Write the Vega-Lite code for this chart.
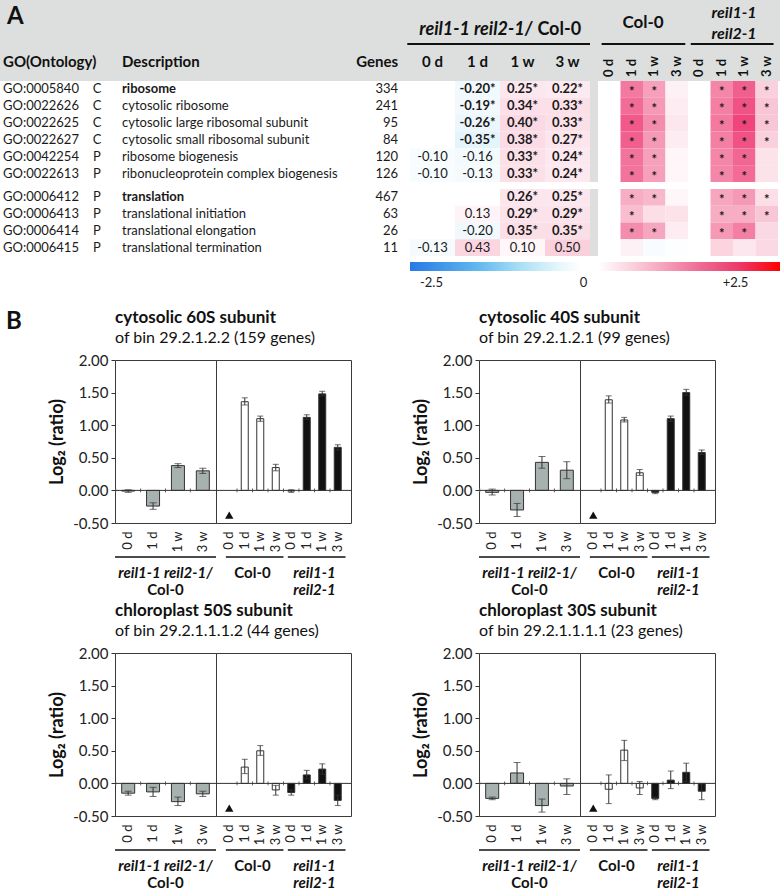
{
"$schema": "https://vega.github.io/schema/vega-lite/v6.json",
"padding": 0,
"background": "white",
"config": {"view": {"stroke": null}, "font": "Lato", "text": {"font": "Lato", "fontSize": 13, "color": "#1a1a1a"}, "axis": {"labelFont": "Lato", "titleFont": "Lato", "grid": false}, "title": {"font": "Lato", "subtitleFont": "Lato"}},
"datasets": {
"terms": [
{"go":"GO:0005840","ont":"C","desc":"ribosome","genes":334,"bold":true,"blk":1},
{"go":"GO:0022626","ont":"C","desc":"cytosolic ribosome","genes":241,"bold":false,"blk":1},
{"go":"GO:0022625","ont":"C","desc":"cytosolic large ribosomal subunit","genes":95,"bold":false,"blk":1},
{"go":"GO:0022627","ont":"C","desc":"cytosolic small ribosomal subunit","genes":84,"bold":false,"blk":1},
{"go":"GO:0042254","ont":"P","desc":"ribosome biogenesis","genes":120,"bold":false,"blk":1},
{"go":"GO:0022613","ont":"P","desc":"ribonucleoprotein complex biogenesis","genes":126,"bold":false,"blk":1},
{"go":"GO:0006412","ont":"P","desc":"translation","genes":467,"bold":true,"blk":2},
{"go":"GO:0006413","ont":"P","desc":"translational initiation","genes":63,"bold":false,"blk":2},
{"go":"GO:0006414","ont":"P","desc":"translational elongation","genes":26,"bold":false,"blk":2},
{"go":"GO:0006415","ont":"P","desc":"translational termination","genes":11,"bold":false,"blk":2}
],
"cols": [{"t":"0 d"},{"t":"1 d"},{"t":"1 w"},{"t":"3 w"}],
"ratio": [
{"go":"GO:0005840","blk":1,"t":"1 d","v":-0.20,"lab":"-0.20*","sig":true},
{"go":"GO:0005840","blk":1,"t":"1 w","v":0.25,"lab":"0.25*","sig":true},
{"go":"GO:0005840","blk":1,"t":"3 w","v":0.22,"lab":"0.22*","sig":true},
{"go":"GO:0022626","blk":1,"t":"1 d","v":-0.19,"lab":"-0.19*","sig":true},
{"go":"GO:0022626","blk":1,"t":"1 w","v":0.34,"lab":"0.34*","sig":true},
{"go":"GO:0022626","blk":1,"t":"3 w","v":0.33,"lab":"0.33*","sig":true},
{"go":"GO:0022625","blk":1,"t":"1 d","v":-0.26,"lab":"-0.26*","sig":true},
{"go":"GO:0022625","blk":1,"t":"1 w","v":0.40,"lab":"0.40*","sig":true},
{"go":"GO:0022625","blk":1,"t":"3 w","v":0.33,"lab":"0.33*","sig":true},
{"go":"GO:0022627","blk":1,"t":"1 d","v":-0.35,"lab":"-0.35*","sig":true},
{"go":"GO:0022627","blk":1,"t":"1 w","v":0.38,"lab":"0.38*","sig":true},
{"go":"GO:0022627","blk":1,"t":"3 w","v":0.27,"lab":"0.27*","sig":true},
{"go":"GO:0042254","blk":1,"t":"0 d","v":-0.10,"lab":"-0.10","sig":false},
{"go":"GO:0042254","blk":1,"t":"1 d","v":-0.16,"lab":"-0.16","sig":false},
{"go":"GO:0042254","blk":1,"t":"1 w","v":0.33,"lab":"0.33*","sig":true},
{"go":"GO:0042254","blk":1,"t":"3 w","v":0.24,"lab":"0.24*","sig":true},
{"go":"GO:0022613","blk":1,"t":"0 d","v":-0.10,"lab":"-0.10","sig":false},
{"go":"GO:0022613","blk":1,"t":"1 d","v":-0.13,"lab":"-0.13","sig":false},
{"go":"GO:0022613","blk":1,"t":"1 w","v":0.33,"lab":"0.33*","sig":true},
{"go":"GO:0022613","blk":1,"t":"3 w","v":0.24,"lab":"0.24*","sig":true},
{"go":"GO:0006412","blk":2,"t":"1 w","v":0.26,"lab":"0.26*","sig":true},
{"go":"GO:0006412","blk":2,"t":"3 w","v":0.25,"lab":"0.25*","sig":true},
{"go":"GO:0006413","blk":2,"t":"1 d","v":0.13,"lab":"0.13","sig":false},
{"go":"GO:0006413","blk":2,"t":"1 w","v":0.29,"lab":"0.29*","sig":true},
{"go":"GO:0006413","blk":2,"t":"3 w","v":0.29,"lab":"0.29*","sig":true},
{"go":"GO:0006414","blk":2,"t":"1 d","v":-0.20,"lab":"-0.20","sig":false},
{"go":"GO:0006414","blk":2,"t":"1 w","v":0.35,"lab":"0.35*","sig":true},
{"go":"GO:0006414","blk":2,"t":"3 w","v":0.35,"lab":"0.35*","sig":true},
{"go":"GO:0006415","blk":2,"t":"0 d","v":-0.13,"lab":"-0.13","sig":false},
{"go":"GO:0006415","blk":2,"t":"1 d","v":0.43,"lab":"0.43","sig":false},
{"go":"GO:0006415","blk":2,"t":"1 w","v":0.10,"lab":"0.10","sig":false},
{"go":"GO:0006415","blk":2,"t":"3 w","v":0.50,"lab":"0.50","sig":false}
],
"heat": [
{"go":"GO:0005840","blk":1,"g":"Col-0","t":"1 d","v":1.25,"sig":true},
{"go":"GO:0005840","blk":1,"g":"Col-0","t":"1 w","v":0.95,"sig":true},
{"go":"GO:0005840","blk":1,"g":"Col-0","t":"3 w","v":0.15,"sig":false},
{"go":"GO:0005840","blk":1,"g":"reil","t":"1 d","v":1.15,"sig":true},
{"go":"GO:0005840","blk":1,"g":"reil","t":"1 w","v":1.45,"sig":true},
{"go":"GO:0005840","blk":1,"g":"reil","t":"3 w","v":0.5,"sig":true},
{"go":"GO:0022626","blk":1,"g":"Col-0","t":"1 d","v":1.35,"sig":true},
{"go":"GO:0022626","blk":1,"g":"Col-0","t":"1 w","v":1.0,"sig":true},
{"go":"GO:0022626","blk":1,"g":"Col-0","t":"3 w","v":0.2,"sig":false},
{"go":"GO:0022626","blk":1,"g":"reil","t":"1 d","v":1.2,"sig":true},
{"go":"GO:0022626","blk":1,"g":"reil","t":"1 w","v":1.55,"sig":true},
{"go":"GO:0022626","blk":1,"g":"reil","t":"3 w","v":0.6,"sig":true},
{"go":"GO:0022625","blk":1,"g":"Col-0","t":"1 d","v":1.5,"sig":true},
{"go":"GO:0022625","blk":1,"g":"Col-0","t":"1 w","v":1.1,"sig":true},
{"go":"GO:0022625","blk":1,"g":"Col-0","t":"3 w","v":0.25,"sig":false},
{"go":"GO:0022625","blk":1,"g":"reil","t":"1 d","v":1.25,"sig":true},
{"go":"GO:0022625","blk":1,"g":"reil","t":"1 w","v":1.65,"sig":true},
{"go":"GO:0022625","blk":1,"g":"reil","t":"3 w","v":0.6,"sig":true},
{"go":"GO:0022627","blk":1,"g":"Col-0","t":"1 d","v":1.45,"sig":true},
{"go":"GO:0022627","blk":1,"g":"Col-0","t":"1 w","v":1.0,"sig":true},
{"go":"GO:0022627","blk":1,"g":"Col-0","t":"3 w","v":0.2,"sig":false},
{"go":"GO:0022627","blk":1,"g":"reil","t":"1 d","v":1.2,"sig":true},
{"go":"GO:0022627","blk":1,"g":"reil","t":"1 w","v":1.55,"sig":true},
{"go":"GO:0022627","blk":1,"g":"reil","t":"3 w","v":0.5,"sig":true},
{"go":"GO:0042254","blk":1,"g":"Col-0","t":"1 d","v":1.3,"sig":true},
{"go":"GO:0042254","blk":1,"g":"Col-0","t":"1 w","v":0.95,"sig":true},
{"go":"GO:0042254","blk":1,"g":"Col-0","t":"3 w","v":0.1,"sig":false},
{"go":"GO:0042254","blk":1,"g":"reil","t":"1 d","v":1.15,"sig":true},
{"go":"GO:0042254","blk":1,"g":"reil","t":"1 w","v":1.4,"sig":true},
{"go":"GO:0042254","blk":1,"g":"reil","t":"3 w","v":0.3,"sig":false},
{"go":"GO:0022613","blk":1,"g":"Col-0","t":"1 d","v":1.3,"sig":true},
{"go":"GO:0022613","blk":1,"g":"Col-0","t":"1 w","v":0.95,"sig":true},
{"go":"GO:0022613","blk":1,"g":"Col-0","t":"3 w","v":0.1,"sig":false},
{"go":"GO:0022613","blk":1,"g":"reil","t":"1 d","v":1.15,"sig":true},
{"go":"GO:0022613","blk":1,"g":"reil","t":"1 w","v":1.35,"sig":true},
{"go":"GO:0022613","blk":1,"g":"reil","t":"3 w","v":0.3,"sig":false},
{"go":"GO:0006412","blk":2,"g":"Col-0","t":"1 d","v":0.85,"sig":true},
{"go":"GO:0006412","blk":2,"g":"Col-0","t":"1 w","v":0.75,"sig":true},
{"go":"GO:0006412","blk":2,"g":"Col-0","t":"3 w","v":0.1,"sig":false},
{"go":"GO:0006412","blk":2,"g":"reil","t":"1 d","v":0.9,"sig":true},
{"go":"GO:0006412","blk":2,"g":"reil","t":"1 w","v":1.0,"sig":true},
{"go":"GO:0006412","blk":2,"g":"reil","t":"3 w","v":0.35,"sig":true},
{"go":"GO:0006413","blk":2,"g":"Col-0","t":"1 d","v":0.7,"sig":true},
{"go":"GO:0006413","blk":2,"g":"Col-0","t":"1 w","v":0.35,"sig":false},
{"go":"GO:0006413","blk":2,"g":"Col-0","t":"3 w","v":0.3,"sig":false},
{"go":"GO:0006413","blk":2,"g":"reil","t":"1 d","v":0.85,"sig":true},
{"go":"GO:0006413","blk":2,"g":"reil","t":"1 w","v":0.85,"sig":true},
{"go":"GO:0006413","blk":2,"g":"reil","t":"3 w","v":0.6,"sig":true},
{"go":"GO:0006414","blk":2,"g":"Col-0","t":"1 d","v":1.1,"sig":true},
{"go":"GO:0006414","blk":2,"g":"Col-0","t":"1 w","v":0.9,"sig":true},
{"go":"GO:0006414","blk":2,"g":"Col-0","t":"3 w","v":0.2,"sig":false},
{"go":"GO:0006414","blk":2,"g":"reil","t":"1 d","v":1.0,"sig":true},
{"go":"GO:0006414","blk":2,"g":"reil","t":"1 w","v":1.2,"sig":true},
{"go":"GO:0006414","blk":2,"g":"reil","t":"3 w","v":0.4,"sig":false},
{"go":"GO:0006415","blk":2,"g":"Col-0","t":"1 d","v":0.15,"sig":false},
{"go":"GO:0006415","blk":2,"g":"Col-0","t":"1 w","v":-0.08,"sig":false},
{"go":"GO:0006415","blk":2,"g":"Col-0","t":"3 w","v":-0.03,"sig":false},
{"go":"GO:0006415","blk":2,"g":"reil","t":"1 d","v":0.45,"sig":false},
{"go":"GO:0006415","blk":2,"g":"reil","t":"1 w","v":0.25,"sig":false},
{"go":"GO:0006415","blk":2,"g":"reil","t":"3 w","v":0.4,"sig":false}
],
"bars": [
{"chart":1,"part":"L","g":"ratio","k":"0 d","v":-0.01,"lo":-0.03,"hi":0.01},
{"chart":1,"part":"L","g":"ratio","k":"1 d","v":-0.24,"lo":-0.29,"hi":-0.19},
{"chart":1,"part":"L","g":"ratio","k":"1 w","v":0.38,"lo":0.35,"hi":0.41},
{"chart":1,"part":"L","g":"ratio","k":"3 w","v":0.30,"lo":0.26,"hi":0.34},
{"chart":1,"part":"R","g":"Col-0","k":"Col-0 1 d","v":1.36,"lo":1.31,"hi":1.42},
{"chart":1,"part":"R","g":"Col-0","k":"Col-0 1 w","v":1.10,"lo":1.06,"hi":1.14},
{"chart":1,"part":"R","g":"Col-0","k":"Col-0 3 w","v":0.35,"lo":0.30,"hi":0.40},
{"chart":1,"part":"R","g":"reil","k":"reil 0 d","v":-0.01,"lo":-0.03,"hi":0.01},
{"chart":1,"part":"R","g":"reil","k":"reil 1 d","v":1.12,"lo":1.09,"hi":1.16},
{"chart":1,"part":"R","g":"reil","k":"reil 1 w","v":1.48,"lo":1.45,"hi":1.52},
{"chart":1,"part":"R","g":"reil","k":"reil 3 w","v":0.66,"lo":0.62,"hi":0.70},
{"chart":2,"part":"L","g":"ratio","k":"0 d","v":-0.03,"lo":-0.07,"hi":0.02},
{"chart":2,"part":"L","g":"ratio","k":"1 d","v":-0.30,"lo":-0.40,"hi":-0.20},
{"chart":2,"part":"L","g":"ratio","k":"1 w","v":0.43,"lo":0.34,"hi":0.52},
{"chart":2,"part":"L","g":"ratio","k":"3 w","v":0.31,"lo":0.18,"hi":0.44},
{"chart":2,"part":"R","g":"Col-0","k":"Col-0 1 d","v":1.39,"lo":1.34,"hi":1.45},
{"chart":2,"part":"R","g":"Col-0","k":"Col-0 1 w","v":1.08,"lo":1.05,"hi":1.12},
{"chart":2,"part":"R","g":"Col-0","k":"Col-0 3 w","v":0.27,"lo":0.23,"hi":0.32},
{"chart":2,"part":"R","g":"reil","k":"reil 0 d","v":-0.03,"lo":-0.05,"hi":-0.01},
{"chart":2,"part":"R","g":"reil","k":"reil 1 d","v":1.10,"lo":1.06,"hi":1.14},
{"chart":2,"part":"R","g":"reil","k":"reil 1 w","v":1.50,"lo":1.46,"hi":1.55},
{"chart":2,"part":"R","g":"reil","k":"reil 3 w","v":0.58,"lo":0.55,"hi":0.62},
{"chart":3,"part":"L","g":"ratio","k":"0 d","v":-0.15,"lo":-0.18,"hi":-0.12},
{"chart":3,"part":"L","g":"ratio","k":"1 d","v":-0.13,"lo":-0.20,"hi":-0.06},
{"chart":3,"part":"L","g":"ratio","k":"1 w","v":-0.28,"lo":-0.34,"hi":-0.21},
{"chart":3,"part":"L","g":"ratio","k":"3 w","v":-0.16,"lo":-0.20,"hi":-0.12},
{"chart":3,"part":"R","g":"Col-0","k":"Col-0 1 d","v":0.25,"lo":0.15,"hi":0.37},
{"chart":3,"part":"R","g":"Col-0","k":"Col-0 1 w","v":0.50,"lo":0.43,"hi":0.58},
{"chart":3,"part":"R","g":"Col-0","k":"Col-0 3 w","v":-0.10,"lo":-0.18,"hi":-0.03},
{"chart":3,"part":"R","g":"reil","k":"reil 0 d","v":-0.14,"lo":-0.18,"hi":-0.10},
{"chart":3,"part":"R","g":"reil","k":"reil 1 d","v":0.13,"lo":0.07,"hi":0.20},
{"chart":3,"part":"R","g":"reil","k":"reil 1 w","v":0.22,"lo":0.14,"hi":0.30},
{"chart":3,"part":"R","g":"reil","k":"reil 3 w","v":-0.26,"lo":-0.34,"hi":-0.18},
{"chart":4,"part":"L","g":"ratio","k":"0 d","v":-0.23,"lo":-0.25,"hi":-0.21},
{"chart":4,"part":"L","g":"ratio","k":"1 d","v":0.16,"lo":0.00,"hi":0.32},
{"chart":4,"part":"L","g":"ratio","k":"1 w","v":-0.34,"lo":-0.44,"hi":-0.24},
{"chart":4,"part":"L","g":"ratio","k":"3 w","v":-0.04,"lo":-0.17,"hi":0.07},
{"chart":4,"part":"R","g":"Col-0","k":"Col-0 1 d","v":-0.09,"lo":-0.31,"hi":0.13},
{"chart":4,"part":"R","g":"Col-0","k":"Col-0 1 w","v":0.51,"lo":0.35,"hi":0.66},
{"chart":4,"part":"R","g":"Col-0","k":"Col-0 3 w","v":-0.07,"lo":-0.17,"hi":0.03},
{"chart":4,"part":"R","g":"reil","k":"reil 0 d","v":-0.23,"lo":-0.25,"hi":-0.21},
{"chart":4,"part":"R","g":"reil","k":"reil 1 d","v":0.05,"lo":-0.08,"hi":0.19},
{"chart":4,"part":"R","g":"reil","k":"reil 1 w","v":0.17,"lo":0.03,"hi":0.31},
{"chart":4,"part":"R","g":"reil","k":"reil 3 w","v":-0.12,"lo":-0.25,"hi":-0.01}
]
},
"spacing": 19,
"vconcat": [
{
"spacing": 0,
"vconcat": [
{
"spacing": 0, "bounds": "flush",
"hconcat": [
{"width":108,"height":81,"view":{"fill":"#dcdfde","stroke":null},"data":{"values":[{}]},
 "layer":[
  {"mark":{"type":"text","text":"A","align":"left","baseline":"middle","fontSize":24,"fontWeight":"bold","dx":7,"color":"#111"},
   "encoding":{"x":{"datum":0,"type":"quantitative","scale":{"domain":[0,1]},"axis":null},"y":{"datum":0.79,"type":"quantitative","scale":{"domain":[0,1]},"axis":null}}},
  {"mark":{"type":"text","text":"GO(Ontology)","align":"left","baseline":"middle","fontSize":15,"fontWeight":"bold","dx":3,"color":"#111"},
   "encoding":{"x":{"datum":0,"type":"quantitative"},"y":{"datum":0.235,"type":"quantitative"}}}
 ]},
{"width":237,"height":81,"view":{"fill":"#dcdfde","stroke":null},"data":{"values":[{}]},
 "mark":{"type":"text","text":"Description","align":"left","baseline":"middle","fontSize":15,"fontWeight":"bold","dx":14,"color":"#111"},
 "encoding":{"x":{"datum":0,"type":"quantitative","scale":{"domain":[0,1]},"axis":null},"y":{"datum":0.235,"type":"quantitative","scale":{"domain":[0,1]},"axis":null}}},
{"width":65,"height":81,"view":{"fill":"#dcdfde","stroke":null},"data":{"values":[{}]},
 "mark":{"type":"text","text":"Genes","align":"right","baseline":"middle","fontSize":15,"fontWeight":"bold","dx":-12,"color":"#111"},
 "encoding":{"x":{"datum":1,"type":"quantitative","scale":{"domain":[0,1]},"axis":null},"y":{"datum":0.235,"type":"quantitative","scale":{"domain":[0,1]},"axis":null}}},
{"width":180,"height":81,"view":{"fill":"#dcdfde","stroke":null},
 "resolve":{"scale":{"x":"independent"}},
 "layer":[
  {"data":{"values":[{}]},"mark":{"type":"text","text":"reil1-1 reil2-1/","align":"right","baseline":"middle","fontSize":18,"fontWeight":"bold","fontStyle":"italic","color":"#111"},
   "encoding":{"x":{"datum":0.68,"type":"quantitative","scale":{"domain":[0,1]},"axis":null},"y":{"datum":0.63,"type":"quantitative","scale":{"domain":[0,1]},"axis":null}}},
  {"data":{"values":[{}]},"mark":{"type":"text","text":"Col-0","align":"left","baseline":"middle","fontSize":18,"fontWeight":"bold","dx":5,"color":"#111"},
   "encoding":{"x":{"datum":0.68,"type":"quantitative","scale":{"domain":[0,1]},"axis":null},"y":{"datum":0.63,"type":"quantitative"}}},
  {"data":{"values":[{}]},"mark":{"type":"rule","color":"#111","strokeWidth":2},"encoding":{"x":{"datum":-0.015,"type":"quantitative","scale":{"domain":[0,1]},"axis":null},"x2":{"datum":1},"y":{"datum":0.457,"type":"quantitative"}}},
  {"data":{"name":"cols"},"mark":{"type":"text","baseline":"middle","fontSize":15,"fontWeight":"bold","color":"#111"},
   "encoding":{"x":{"field":"t","type":"nominal","scale":{"type":"band","domain":["0 d","1 d","1 w","3 w"],"paddingInner":0,"paddingOuter":0},"axis":null},"y":{"datum":0.235,"type":"quantitative"},"text":{"field":"t"}}}
 ]},
{"width":8,"height":81,"view":{"fill":"#dcdfde","stroke":null},"data":{"values":[{}]},"mark":"text","encoding":{}},
{"width":90,"height":81,"view":{"fill":"#dcdfde","stroke":null},
 "resolve":{"scale":{"x":"independent"}},
 "layer":[
  {"data":{"values":[{}]},"mark":{"type":"text","text":"Col-0","baseline":"middle","fontSize":17,"fontWeight":"bold","color":"#111"},
   "encoding":{"y":{"datum":0.716,"type":"quantitative","scale":{"domain":[0,1]},"axis":null}}},
  {"data":{"values":[{}]},"mark":{"type":"rule","color":"#111","strokeWidth":2},"encoding":{"x":{"datum":0.04,"type":"quantitative","scale":{"domain":[0,1]},"axis":null},"x2":{"datum":0.97},"y":{"datum":0.457,"type":"quantitative"}}},
  {"data":{"name":"cols"},"mark":{"type":"text","angle":270,"align":"left","baseline":"middle","fontSize":13,"fontWeight":"bold","color":"#111"},
   "encoding":{"x":{"field":"t","type":"nominal","scale":{"type":"band","domain":["0 d","1 d","1 w","3 w"],"paddingInner":0,"paddingOuter":0},"axis":null},"y":{"datum":0.05,"type":"quantitative"},"text":{"field":"t"}}}
 ]},
{"width":92,"height":81,"view":{"fill":"#dcdfde","stroke":null},
 "resolve":{"scale":{"x":"independent"}},
 "layer":[
  {"data":{"values":[{}]},"mark":{"type":"text","text":"reil1-1","baseline":"middle","fontSize":16,"fontWeight":"bold","fontStyle":"italic","color":"#111"},
   "encoding":{"y":{"datum":0.84,"type":"quantitative","scale":{"domain":[0,1]},"axis":null}}},
  {"data":{"values":[{}]},"mark":{"type":"text","text":"reil2-1","baseline":"middle","fontSize":16,"fontWeight":"bold","fontStyle":"italic","color":"#111"},
   "encoding":{"y":{"datum":0.58,"type":"quantitative"}}},
  {"data":{"values":[{}]},"mark":{"type":"rule","color":"#111","strokeWidth":2},"encoding":{"x":{"datum":0.03,"type":"quantitative","scale":{"domain":[0,1]},"axis":null},"x2":{"datum":0.93},"y":{"datum":0.457,"type":"quantitative"}}},
  {"data":{"name":"cols"},"mark":{"type":"text","angle":270,"align":"left","baseline":"middle","fontSize":13,"fontWeight":"bold","color":"#111"},
   "encoding":{"x":{"field":"t","type":"nominal","scale":{"type":"band","domain":["0 d","1 d","1 w","3 w"],"paddingInner":0,"paddingOuter":0,"range":[0,90]},"axis":null},"y":{"datum":0.05,"type":"quantitative"},"text":{"field":"t"}}}
 ]}
]
},
{
"spacing": 5,
"vconcat": [
{
"spacing": 0, "bounds": "flush",
"hconcat": [
{"width":86,"height":101,"data":{"name":"terms"},"transform":[{"filter":"datum.blk==1"}],
 "mark":{"type":"text","align":"left","dx":3,"fontSize":13},
 "encoding":{"x":{"datum":0,"type":"quantitative","scale":{"domain":[0,1]},"axis":null},
  "y":{"field":"go","type":"nominal","scale":{"type":"band","domain":["GO:0005840","GO:0022626","GO:0022625","GO:0022627","GO:0042254","GO:0022613"],"paddingInner":0,"paddingOuter":0},"axis":null},
  "text":{"field":"go"}}},
{"width":22,"height":101,"data":{"name":"terms"},"transform":[{"filter":"datum.blk==1"}],
 "mark":{"type":"text","fontSize":13},
 "encoding":{"y":{"field":"go","type":"nominal","scale":{"type":"band","domain":["GO:0005840","GO:0022626","GO:0022625","GO:0022627","GO:0042254","GO:0022613"],"paddingInner":0,"paddingOuter":0},"axis":null},
  "text":{"field":"ont"}}},
{"width":237,"height":101,"data":{"name":"terms"},"transform":[{"filter":"datum.blk==1"}],
 "encoding":{"x":{"datum":0,"type":"quantitative","scale":{"domain":[0,1]},"axis":null},
  "y":{"field":"go","type":"nominal","scale":{"type":"band","domain":["GO:0005840","GO:0022626","GO:0022625","GO:0022627","GO:0042254","GO:0022613"],"paddingInner":0,"paddingOuter":0},"axis":null},
  "text":{"field":"desc"}},
 "layer":[
  {"transform":[{"filter":"!datum.bold"}],"mark":{"type":"text","align":"left","dx":14,"fontSize":13}},
  {"transform":[{"filter":"datum.bold"}],"mark":{"type":"text","align":"left","dx":14,"fontSize":13,"fontWeight":"bold"}}
 ]},
{"width":65,"height":101,"data":{"name":"terms"},"transform":[{"filter":"datum.blk==1"}],
 "mark":{"type":"text","align":"right","dx":-12,"fontSize":13},
 "encoding":{"x":{"datum":1,"type":"quantitative","scale":{"domain":[0,1]},"axis":null},
  "y":{"field":"go","type":"nominal","scale":{"type":"band","domain":["GO:0005840","GO:0022626","GO:0022625","GO:0022627","GO:0042254","GO:0022613"],"paddingInner":0,"paddingOuter":0},"axis":null},
  "text":{"field":"genes"}}},
{"width":180,"height":101,"data":{"name":"ratio"},"transform":[{"filter":"datum.blk==1"}],
 "encoding":{"x":{"field":"t","type":"nominal","scale":{"domain":["0 d","1 d","1 w","3 w"],"paddingInner":0,"paddingOuter":0},"axis":null},
  "y":{"field":"go","type":"nominal","scale":{"type":"band","domain":["GO:0005840","GO:0022626","GO:0022625","GO:0022627","GO:0042254","GO:0022613"],"paddingInner":0,"paddingOuter":0},"axis":null}},
 "layer":[
  {"mark":"rect","encoding":{"color":{"field":"v","type":"quantitative","scale":{"domain":[-2.5,-0.5,0,0.8,1.7,2.5],"range":["#2277e6","#d9eff9","#ffffff","#f7b3c8","#ee3f78","#ff0000"],"interpolate":"rgb"},"legend":null}}},
  {"transform":[{"filter":"!datum.sig"}],"mark":{"type":"text","fontSize":13},"encoding":{"text":{"field":"lab"}}},
  {"transform":[{"filter":"datum.sig"}],"mark":{"type":"text","fontSize":13,"fontWeight":"bold"},"encoding":{"text":{"field":"lab"}}}
 ]},
{"width":8,"height":101,"view":{"fill":"#dcdfde","stroke":null},"data":{"values":[{}]},"mark":"text","encoding":{}},
{"width":90,"height":101,"data":{"name":"heat"},"transform":[{"filter":"datum.blk==1 && datum.g=='Col-0'"}],
 "encoding":{"x":{"field":"t","type":"nominal","scale":{"domain":["0 d","1 d","1 w","3 w"],"paddingInner":0,"paddingOuter":0},"axis":null},
  "y":{"field":"go","type":"nominal","scale":{"type":"band","domain":["GO:0005840","GO:0022626","GO:0022625","GO:0022627","GO:0042254","GO:0022613"],"paddingInner":0,"paddingOuter":0},"axis":null}},
 "layer":[
  {"mark":"rect","encoding":{"color":{"field":"v","type":"quantitative","scale":{"domain":[-2.5,-0.5,0,0.8,1.7,2.5],"range":["#2277e6","#d9eff9","#ffffff","#f7b3c8","#ee3f78","#ff0000"],"interpolate":"rgb"},"legend":null}}},
  {"transform":[{"filter":"datum.sig"}],"mark":{"type":"text","text":"*","fontSize":13,"fontWeight":"bold","dy":3}}
 ]},
{"width":90,"height":101,"data":{"name":"heat"},"transform":[{"filter":"datum.blk==1 && datum.g=='reil'"}],
 "encoding":{"x":{"field":"t","type":"nominal","scale":{"domain":["0 d","1 d","1 w","3 w"],"paddingInner":0,"paddingOuter":0},"axis":null},
  "y":{"field":"go","type":"nominal","scale":{"type":"band","domain":["GO:0005840","GO:0022626","GO:0022625","GO:0022627","GO:0042254","GO:0022613"],"paddingInner":0,"paddingOuter":0},"axis":null}},
 "layer":[
  {"mark":"rect","encoding":{"color":{"field":"v","type":"quantitative","scale":{"domain":[-2.5,-0.5,0,0.8,1.7,2.5],"range":["#2277e6","#d9eff9","#ffffff","#f7b3c8","#ee3f78","#ff0000"],"interpolate":"rgb"},"legend":null}}},
  {"transform":[{"filter":"datum.sig"}],"mark":{"type":"text","text":"*","fontSize":13,"fontWeight":"bold","dy":3}}
 ]}
]
},
{
"spacing": 4,
"vconcat": [
{
"spacing": 0, "bounds": "flush",
"hconcat": [
{"width":86,"height":67,"data":{"name":"terms"},"transform":[{"filter":"datum.blk==2"}],
 "mark":{"type":"text","align":"left","dx":3,"fontSize":13},
 "encoding":{"x":{"datum":0,"type":"quantitative","scale":{"domain":[0,1]},"axis":null},
  "y":{"field":"go","type":"nominal","scale":{"type":"band","domain":["GO:0006412","GO:0006413","GO:0006414","GO:0006415"],"paddingInner":0,"paddingOuter":0},"axis":null},
  "text":{"field":"go"}}},
{"width":22,"height":67,"data":{"name":"terms"},"transform":[{"filter":"datum.blk==2"}],
 "mark":{"type":"text","fontSize":13},
 "encoding":{"y":{"field":"go","type":"nominal","scale":{"type":"band","domain":["GO:0006412","GO:0006413","GO:0006414","GO:0006415"],"paddingInner":0,"paddingOuter":0},"axis":null},
  "text":{"field":"ont"}}},
{"width":237,"height":67,"data":{"name":"terms"},"transform":[{"filter":"datum.blk==2"}],
 "encoding":{"x":{"datum":0,"type":"quantitative","scale":{"domain":[0,1]},"axis":null},
  "y":{"field":"go","type":"nominal","scale":{"type":"band","domain":["GO:0006412","GO:0006413","GO:0006414","GO:0006415"],"paddingInner":0,"paddingOuter":0},"axis":null},
  "text":{"field":"desc"}},
 "layer":[
  {"transform":[{"filter":"!datum.bold"}],"mark":{"type":"text","align":"left","dx":14,"fontSize":13}},
  {"transform":[{"filter":"datum.bold"}],"mark":{"type":"text","align":"left","dx":14,"fontSize":13,"fontWeight":"bold"}}
 ]},
{"width":65,"height":67,"data":{"name":"terms"},"transform":[{"filter":"datum.blk==2"}],
 "mark":{"type":"text","align":"right","dx":-12,"fontSize":13},
 "encoding":{"x":{"datum":1,"type":"quantitative","scale":{"domain":[0,1]},"axis":null},
  "y":{"field":"go","type":"nominal","scale":{"type":"band","domain":["GO:0006412","GO:0006413","GO:0006414","GO:0006415"],"paddingInner":0,"paddingOuter":0},"axis":null},
  "text":{"field":"genes"}}},
{"width":180,"height":67,"data":{"name":"ratio"},"transform":[{"filter":"datum.blk==2"}],
 "encoding":{"x":{"field":"t","type":"nominal","scale":{"domain":["0 d","1 d","1 w","3 w"],"paddingInner":0,"paddingOuter":0},"axis":null},
  "y":{"field":"go","type":"nominal","scale":{"type":"band","domain":["GO:0006412","GO:0006413","GO:0006414","GO:0006415"],"paddingInner":0,"paddingOuter":0},"axis":null}},
 "layer":[
  {"mark":"rect","encoding":{"color":{"field":"v","type":"quantitative","scale":{"domain":[-2.5,-0.5,0,0.8,1.7,2.5],"range":["#2277e6","#d9eff9","#ffffff","#f7b3c8","#ee3f78","#ff0000"],"interpolate":"rgb"},"legend":null}}},
  {"transform":[{"filter":"!datum.sig"}],"mark":{"type":"text","fontSize":13},"encoding":{"text":{"field":"lab"}}},
  {"transform":[{"filter":"datum.sig"}],"mark":{"type":"text","fontSize":13,"fontWeight":"bold"},"encoding":{"text":{"field":"lab"}}}
 ]},
{"width":8,"height":67,"view":{"fill":"#dcdfde","stroke":null},"data":{"values":[{}]},"mark":"text","encoding":{}},
{"width":90,"height":67,"data":{"name":"heat"},"transform":[{"filter":"datum.blk==2 && datum.g=='Col-0'"}],
 "encoding":{"x":{"field":"t","type":"nominal","scale":{"domain":["0 d","1 d","1 w","3 w"],"paddingInner":0,"paddingOuter":0},"axis":null},
  "y":{"field":"go","type":"nominal","scale":{"type":"band","domain":["GO:0006412","GO:0006413","GO:0006414","GO:0006415"],"paddingInner":0,"paddingOuter":0},"axis":null}},
 "layer":[
  {"mark":"rect","encoding":{"color":{"field":"v","type":"quantitative","scale":{"domain":[-2.5,-0.5,0,0.8,1.7,2.5],"range":["#2277e6","#d9eff9","#ffffff","#f7b3c8","#ee3f78","#ff0000"],"interpolate":"rgb"},"legend":null}}},
  {"transform":[{"filter":"datum.sig"}],"mark":{"type":"text","text":"*","fontSize":13,"fontWeight":"bold","dy":3}}
 ]},
{"width":90,"height":67,"data":{"name":"heat"},"transform":[{"filter":"datum.blk==2 && datum.g=='reil'"}],
 "encoding":{"x":{"field":"t","type":"nominal","scale":{"domain":["0 d","1 d","1 w","3 w"],"paddingInner":0,"paddingOuter":0},"axis":null},
  "y":{"field":"go","type":"nominal","scale":{"type":"band","domain":["GO:0006412","GO:0006413","GO:0006414","GO:0006415"],"paddingInner":0,"paddingOuter":0},"axis":null}},
 "layer":[
  {"mark":"rect","encoding":{"color":{"field":"v","type":"quantitative","scale":{"domain":[-2.5,-0.5,0,0.8,1.7,2.5],"range":["#2277e6","#d9eff9","#ffffff","#f7b3c8","#ee3f78","#ff0000"],"interpolate":"rgb"},"legend":null}}},
  {"transform":[{"filter":"datum.sig"}],"mark":{"type":"text","text":"*","fontSize":13,"fontWeight":"bold","dy":3}}
 ]}
]
},
{
"spacing": 0, "bounds": "flush",
"hconcat": [
{"width":410,"height":9,"data":{"values":[{}]},"mark":"text","encoding":{}},
{"width":370,"height":9,"data":{"values":[{}]},
 "layer":[
  {"mark":{"type":"rect","fill":{"gradient":"linear","x1":0,"y1":0,"x2":1,"y2":0,"stops":[{"offset":0,"color":"#2579e6"},{"offset":0.4,"color":"#62b8ee"},{"offset":0.64,"color":"#a9def5"},{"offset":0.87,"color":"#e6f6fc"},{"offset":1,"color":"#ffffff"}]}},
   "encoding":{"x":{"datum":-2.845,"type":"quantitative","scale":{"domain":[-2.845,3.24],"nice":false,"zero":false},"axis":{"values":[-2.5,0,2.5],"tickCount":10,"labelExpr":"datum.value > 0 ? '+' + format(datum.value, '.1f') : (datum.value < 0 ? '-' + format(-datum.value, '.1f') : '0')","domain":false,"ticks":false,"labelFontSize":13,"labelPadding":5,"title":null,"labelColor":"#222"}},"x2":{"datum":-0.03}}},
  {"mark":{"type":"rect","fill":{"gradient":"linear","x1":0,"y1":0,"x2":1,"y2":0,"stops":[{"offset":0,"color":"#ffffff"},{"offset":0.28,"color":"#f7b9cc"},{"offset":0.56,"color":"#ee6b95"},{"offset":0.78,"color":"#ec3a68"},{"offset":1,"color":"#ff0000"}]}},
   "encoding":{"x":{"datum":0.25,"type":"quantitative"},"x2":{"datum":3.24}}}
 ]}
]
}
]
}
]
}
]
},
{
"spacing": 2,
"vconcat": [
{
"spacing": 0, "bounds": "flush",
"hconcat": [
{"width":115,"height":163,"title":{"text":"B","anchor":"start","frame":"group","dx":6,"fontSize":24,"fontWeight":"bold","offset":26,"color":"#111"},"data":{"values":[{}]},"mark":"text","encoding":{}},
{"width":101,"height":163,"view":{"stroke":"#3a3a3a","strokeWidth":1},
 "title":{"text":"cytosolic 60S subunit","subtitle":"of bin 29.2.1.2.2 (159 genes)","anchor":"start","frame":"group","offset":6,"fontSize":17,"fontWeight":"bold","subtitleFontSize":16,"subtitlePadding":3,"color":"#111","subtitleColor":"#111"},
 "layer":[
  {"data":{"name":"bars"},"transform":[{"filter":"datum.chart==1 && datum.part=='L'"}],"mark":{"type":"bar","width":13,"stroke":"#333","strokeWidth":1},
   "encoding":{"x":{"field":"k","type":"nominal","title":null,"scale":{"domain":["0 d","1 d","1 w","3 w"],"paddingInner":0,"paddingOuter":0.03},"axis":{"labelAngle":-90,"domain":false,"ticks":false,"labelPadding":8,"labelFontSize":13,"labelColor":"#222"}},
    "y":{"field":"v","type":"quantitative","title":"Log₂ (ratio)","scale":{"domain":[-0.5,2],"nice":false,"zero":false},"axis":{"values":[-0.5,0,0.5,1,1.5,2],"tickCount":10,"labelOverlap":false,"labelExpr":"replace(format(datum.value,'.2f'),'−','-')","domain":false,"tickSize":4,"tickColor":"#333","labelFontSize":15,"labelPadding":3,"labelColor":"#222","titleFontSize":18,"titleFontWeight":"bold","titlePadding":6,"titleColor":"#111"}},
    "y2":{"datum":0},
    "fill":{"field":"g","type":"nominal","scale":{"domain":["ratio","Col-0","reil"],"range":["#a7b1af","#ffffff","#111111"]},"legend":null}}},
  {"data":{"name":"bars"},"transform":[{"filter":"datum.chart==1 && datum.part=='L'"}],"mark":{"type":"rule","color":"#333"},"encoding":{"x":{"field":"k","type":"nominal"},"y":{"field":"lo","type":"quantitative"},"y2":{"field":"hi"}}},
  {"data":{"name":"bars"},"transform":[{"filter":"datum.chart==1 && datum.part=='L'"}],"mark":{"type":"tick","size":7,"thickness":1,"color":"#333"},"encoding":{"x":{"field":"k","type":"nominal"},"y":{"field":"lo","type":"quantitative"}}},
  {"data":{"name":"bars"},"transform":[{"filter":"datum.chart==1 && datum.part=='L'"}],"mark":{"type":"tick","size":7,"thickness":1,"color":"#333"},"encoding":{"x":{"field":"k","type":"nominal"},"y":{"field":"hi","type":"quantitative"}}},
  {"data":{"name":"bars"},"transform":[{"filter":"datum.chart==1 && datum.part=='L'"}],"mark":{"type":"rule","color":"#666"},"encoding":{"x":{"field":"k","type":"nominal","bandPosition":0},"y":{"datum":-0.03,"type":"quantitative"},"y2":{"datum":0.03}}},
  {"data":{"values":[{}]},"mark":{"type":"rule","color":"#333"},"encoding":{"y":{"datum":0,"type":"quantitative"}}},
  {"data":{"values":[{}]},"mark":{"type":"rule","color":"#111","strokeWidth":1.5},"encoding":{"y":{"datum":-1.02,"type":"quantitative"}}},
  {"data":{"values":[{}]},"mark":{"type":"text","text":"reil1-1 reil2-1/","fontStyle":"italic","fontWeight":"bold","fontSize":15,"color":"#111"},"encoding":{"y":{"datum":-1.26,"type":"quantitative"}}},
  {"data":{"values":[{}]},"mark":{"type":"text","text":"Col-0","fontWeight":"bold","fontSize":15,"color":"#111"},"encoding":{"y":{"datum":-1.52,"type":"quantitative"}}}
 ]},
{"width":135,"height":163,"view":{"stroke":"#3a3a3a","strokeWidth":1},
 "layer":[
  {"data":{"name":"bars"},"transform":[{"filter":"datum.chart==1 && datum.part=='R'"}],"mark":{"type":"bar","width":7,"stroke":"#333","strokeWidth":1},
   "encoding":{"x":{"field":"k","type":"nominal","title":null,"scale":{"domain":["Col-0 0 d","Col-0 1 d","Col-0 1 w","Col-0 3 w","reil 0 d","reil 1 d","reil 1 w","reil 3 w"],"paddingInner":0,"paddingOuter":0.355},"axis":{"labelExpr":"slice(datum.value, -3)","labelAngle":-90,"domain":false,"ticks":false,"labelPadding":8,"labelFontSize":13,"labelColor":"#222"}},
    "y":{"field":"v","type":"quantitative","scale":{"domain":[-0.5,2],"nice":false,"zero":false},"axis":null},
    "y2":{"datum":0},
    "fill":{"field":"g","type":"nominal","scale":{"domain":["ratio","Col-0","reil"],"range":["#a7b1af","#ffffff","#111111"]},"legend":null}}},
  {"data":{"name":"bars"},"transform":[{"filter":"datum.chart==1 && datum.part=='R'"}],"mark":{"type":"rule","color":"#333"},"encoding":{"x":{"field":"k","type":"nominal"},"y":{"field":"lo","type":"quantitative"},"y2":{"field":"hi"}}},
  {"data":{"name":"bars"},"transform":[{"filter":"datum.chart==1 && datum.part=='R'"}],"mark":{"type":"tick","size":6,"thickness":1,"color":"#333"},"encoding":{"x":{"field":"k","type":"nominal"},"y":{"field":"lo","type":"quantitative"}}},
  {"data":{"name":"bars"},"transform":[{"filter":"datum.chart==1 && datum.part=='R'"}],"mark":{"type":"tick","size":6,"thickness":1,"color":"#333"},"encoding":{"x":{"field":"k","type":"nominal"},"y":{"field":"hi","type":"quantitative"}}},
  {"data":{"name":"bars"},"transform":[{"filter":"datum.chart==1 && datum.part=='R'"}],"mark":{"type":"rule","color":"#666"},"encoding":{"x":{"field":"k","type":"nominal","bandPosition":0},"y":{"datum":-0.03,"type":"quantitative"},"y2":{"datum":0.03}}},
  {"data":{"values":[{}]},"mark":{"type":"rule","color":"#333"},"encoding":{"y":{"datum":0,"type":"quantitative"}}},
  {"data":{"values":[{"k":"Col-0 0 d"}]},"mark":{"type":"point","shape":"triangle-up","filled":true,"size":70,"color":"#111","opacity":1},"encoding":{"x":{"field":"k","type":"nominal"},"y":{"datum":-0.38,"type":"quantitative"}}},
  {"data":{"values":[{"a":"Col-0 0 d","b":"Col-0 3 w"},{"a":"reil 0 d","b":"reil 3 w"}]},"mark":{"type":"rule","color":"#111","strokeWidth":1.5},"encoding":{"x":{"field":"a","type":"nominal","bandPosition":0.28},"x2":{"field":"b","bandPosition":1},"y":{"datum":-1.02,"type":"quantitative"}}},
  {"data":{"values":[{"k":"Col-0 1 w"}]},"mark":{"type":"text","text":"Col-0","fontWeight":"bold","fontSize":15,"color":"#111"},"encoding":{"x":{"field":"k","type":"nominal","bandPosition":0},"y":{"datum":-1.26,"type":"quantitative"}}},
  {"data":{"values":[{"k":"reil 1 w"}]},"mark":{"type":"text","text":"reil1-1","fontWeight":"bold","fontStyle":"italic","fontSize":15,"color":"#111"},"encoding":{"x":{"field":"k","type":"nominal","bandPosition":0},"y":{"datum":-1.26,"type":"quantitative"}}},
  {"data":{"values":[{"k":"reil 1 w"}]},"mark":{"type":"text","text":"reil2-1","fontWeight":"bold","fontStyle":"italic","fontSize":15,"color":"#111"},"encoding":{"x":{"field":"k","type":"nominal","bandPosition":0},"y":{"datum":-1.52,"type":"quantitative"}}}
 ]},
{"width":128,"height":163,"data":{"values":[{}]},"mark":"text","encoding":{}},
{"width":101,"height":163,"view":{"stroke":"#3a3a3a","strokeWidth":1},
 "title":{"text":"cytosolic 40S subunit","subtitle":"of bin 29.2.1.2.1 (99 genes)","anchor":"start","frame":"group","offset":6,"fontSize":17,"fontWeight":"bold","subtitleFontSize":16,"subtitlePadding":3,"color":"#111","subtitleColor":"#111"},
 "layer":[
  {"data":{"name":"bars"},"transform":[{"filter":"datum.chart==2 && datum.part=='L'"}],"mark":{"type":"bar","width":13,"stroke":"#333","strokeWidth":1},
   "encoding":{"x":{"field":"k","type":"nominal","title":null,"scale":{"domain":["0 d","1 d","1 w","3 w"],"paddingInner":0,"paddingOuter":0.03},"axis":{"labelAngle":-90,"domain":false,"ticks":false,"labelPadding":8,"labelFontSize":13,"labelColor":"#222"}},
    "y":{"field":"v","type":"quantitative","title":"Log₂ (ratio)","scale":{"domain":[-0.5,2],"nice":false,"zero":false},"axis":{"values":[-0.5,0,0.5,1,1.5,2],"tickCount":10,"labelOverlap":false,"labelExpr":"replace(format(datum.value,'.2f'),'−','-')","domain":false,"tickSize":4,"tickColor":"#333","labelFontSize":15,"labelPadding":3,"labelColor":"#222","titleFontSize":18,"titleFontWeight":"bold","titlePadding":6,"titleColor":"#111"}},
    "y2":{"datum":0},
    "fill":{"field":"g","type":"nominal","scale":{"domain":["ratio","Col-0","reil"],"range":["#a7b1af","#ffffff","#111111"]},"legend":null}}},
  {"data":{"name":"bars"},"transform":[{"filter":"datum.chart==2 && datum.part=='L'"}],"mark":{"type":"rule","color":"#333"},"encoding":{"x":{"field":"k","type":"nominal"},"y":{"field":"lo","type":"quantitative"},"y2":{"field":"hi"}}},
  {"data":{"name":"bars"},"transform":[{"filter":"datum.chart==2 && datum.part=='L'"}],"mark":{"type":"tick","size":7,"thickness":1,"color":"#333"},"encoding":{"x":{"field":"k","type":"nominal"},"y":{"field":"lo","type":"quantitative"}}},
  {"data":{"name":"bars"},"transform":[{"filter":"datum.chart==2 && datum.part=='L'"}],"mark":{"type":"tick","size":7,"thickness":1,"color":"#333"},"encoding":{"x":{"field":"k","type":"nominal"},"y":{"field":"hi","type":"quantitative"}}},
  {"data":{"name":"bars"},"transform":[{"filter":"datum.chart==2 && datum.part=='L'"}],"mark":{"type":"rule","color":"#666"},"encoding":{"x":{"field":"k","type":"nominal","bandPosition":0},"y":{"datum":-0.03,"type":"quantitative"},"y2":{"datum":0.03}}},
  {"data":{"values":[{}]},"mark":{"type":"rule","color":"#333"},"encoding":{"y":{"datum":0,"type":"quantitative"}}},
  {"data":{"values":[{}]},"mark":{"type":"rule","color":"#111","strokeWidth":1.5},"encoding":{"y":{"datum":-1.02,"type":"quantitative"}}},
  {"data":{"values":[{}]},"mark":{"type":"text","text":"reil1-1 reil2-1/","fontStyle":"italic","fontWeight":"bold","fontSize":15,"color":"#111"},"encoding":{"y":{"datum":-1.26,"type":"quantitative"}}},
  {"data":{"values":[{}]},"mark":{"type":"text","text":"Col-0","fontWeight":"bold","fontSize":15,"color":"#111"},"encoding":{"y":{"datum":-1.52,"type":"quantitative"}}}
 ]},
{"width":135,"height":163,"view":{"stroke":"#3a3a3a","strokeWidth":1},
 "layer":[
  {"data":{"name":"bars"},"transform":[{"filter":"datum.chart==2 && datum.part=='R'"}],"mark":{"type":"bar","width":7,"stroke":"#333","strokeWidth":1},
   "encoding":{"x":{"field":"k","type":"nominal","title":null,"scale":{"domain":["Col-0 0 d","Col-0 1 d","Col-0 1 w","Col-0 3 w","reil 0 d","reil 1 d","reil 1 w","reil 3 w"],"paddingInner":0,"paddingOuter":0.355},"axis":{"labelExpr":"slice(datum.value, -3)","labelAngle":-90,"domain":false,"ticks":false,"labelPadding":8,"labelFontSize":13,"labelColor":"#222"}},
    "y":{"field":"v","type":"quantitative","scale":{"domain":[-0.5,2],"nice":false,"zero":false},"axis":null},
    "y2":{"datum":0},
    "fill":{"field":"g","type":"nominal","scale":{"domain":["ratio","Col-0","reil"],"range":["#a7b1af","#ffffff","#111111"]},"legend":null}}},
  {"data":{"name":"bars"},"transform":[{"filter":"datum.chart==2 && datum.part=='R'"}],"mark":{"type":"rule","color":"#333"},"encoding":{"x":{"field":"k","type":"nominal"},"y":{"field":"lo","type":"quantitative"},"y2":{"field":"hi"}}},
  {"data":{"name":"bars"},"transform":[{"filter":"datum.chart==2 && datum.part=='R'"}],"mark":{"type":"tick","size":6,"thickness":1,"color":"#333"},"encoding":{"x":{"field":"k","type":"nominal"},"y":{"field":"lo","type":"quantitative"}}},
  {"data":{"name":"bars"},"transform":[{"filter":"datum.chart==2 && datum.part=='R'"}],"mark":{"type":"tick","size":6,"thickness":1,"color":"#333"},"encoding":{"x":{"field":"k","type":"nominal"},"y":{"field":"hi","type":"quantitative"}}},
  {"data":{"name":"bars"},"transform":[{"filter":"datum.chart==2 && datum.part=='R'"}],"mark":{"type":"rule","color":"#666"},"encoding":{"x":{"field":"k","type":"nominal","bandPosition":0},"y":{"datum":-0.03,"type":"quantitative"},"y2":{"datum":0.03}}},
  {"data":{"values":[{}]},"mark":{"type":"rule","color":"#333"},"encoding":{"y":{"datum":0,"type":"quantitative"}}},
  {"data":{"values":[{"k":"Col-0 0 d"}]},"mark":{"type":"point","shape":"triangle-up","filled":true,"size":70,"color":"#111","opacity":1},"encoding":{"x":{"field":"k","type":"nominal"},"y":{"datum":-0.38,"type":"quantitative"}}},
  {"data":{"values":[{"a":"Col-0 0 d","b":"Col-0 3 w"},{"a":"reil 0 d","b":"reil 3 w"}]},"mark":{"type":"rule","color":"#111","strokeWidth":1.5},"encoding":{"x":{"field":"a","type":"nominal","bandPosition":0.28},"x2":{"field":"b","bandPosition":1},"y":{"datum":-1.02,"type":"quantitative"}}},
  {"data":{"values":[{"k":"Col-0 1 w"}]},"mark":{"type":"text","text":"Col-0","fontWeight":"bold","fontSize":15,"color":"#111"},"encoding":{"x":{"field":"k","type":"nominal","bandPosition":0},"y":{"datum":-1.26,"type":"quantitative"}}},
  {"data":{"values":[{"k":"reil 1 w"}]},"mark":{"type":"text","text":"reil1-1","fontWeight":"bold","fontStyle":"italic","fontSize":15,"color":"#111"},"encoding":{"x":{"field":"k","type":"nominal","bandPosition":0},"y":{"datum":-1.26,"type":"quantitative"}}},
  {"data":{"values":[{"k":"reil 1 w"}]},"mark":{"type":"text","text":"reil2-1","fontWeight":"bold","fontStyle":"italic","fontSize":15,"color":"#111"},"encoding":{"x":{"field":"k","type":"nominal","bandPosition":0},"y":{"datum":-1.52,"type":"quantitative"}}}
 ]}
]
},
{
"spacing": 0, "bounds": "flush",
"hconcat": [
{"width":115,"height":163,"data":{"values":[{}]},"mark":"text","encoding":{}},
{"width":101,"height":163,"view":{"stroke":"#3a3a3a","strokeWidth":1},
 "title":{"text":"chloroplast 50S subunit","subtitle":"of bin 29.2.1.1.1.2 (44 genes)","anchor":"start","frame":"group","offset":6,"fontSize":17,"fontWeight":"bold","subtitleFontSize":16,"subtitlePadding":3,"color":"#111","subtitleColor":"#111"},
 "layer":[
  {"data":{"name":"bars"},"transform":[{"filter":"datum.chart==3 && datum.part=='L'"}],"mark":{"type":"bar","width":13,"stroke":"#333","strokeWidth":1},
   "encoding":{"x":{"field":"k","type":"nominal","title":null,"scale":{"domain":["0 d","1 d","1 w","3 w"],"paddingInner":0,"paddingOuter":0.03},"axis":{"labelAngle":-90,"domain":false,"ticks":false,"labelPadding":8,"labelFontSize":13,"labelColor":"#222"}},
    "y":{"field":"v","type":"quantitative","title":"Log₂ (ratio)","scale":{"domain":[-0.5,2],"nice":false,"zero":false},"axis":{"values":[-0.5,0,0.5,1,1.5,2],"tickCount":10,"labelOverlap":false,"labelExpr":"replace(format(datum.value,'.2f'),'−','-')","domain":false,"tickSize":4,"tickColor":"#333","labelFontSize":15,"labelPadding":3,"labelColor":"#222","titleFontSize":18,"titleFontWeight":"bold","titlePadding":6,"titleColor":"#111"}},
    "y2":{"datum":0},
    "fill":{"field":"g","type":"nominal","scale":{"domain":["ratio","Col-0","reil"],"range":["#a7b1af","#ffffff","#111111"]},"legend":null}}},
  {"data":{"name":"bars"},"transform":[{"filter":"datum.chart==3 && datum.part=='L'"}],"mark":{"type":"rule","color":"#333"},"encoding":{"x":{"field":"k","type":"nominal"},"y":{"field":"lo","type":"quantitative"},"y2":{"field":"hi"}}},
  {"data":{"name":"bars"},"transform":[{"filter":"datum.chart==3 && datum.part=='L'"}],"mark":{"type":"tick","size":7,"thickness":1,"color":"#333"},"encoding":{"x":{"field":"k","type":"nominal"},"y":{"field":"lo","type":"quantitative"}}},
  {"data":{"name":"bars"},"transform":[{"filter":"datum.chart==3 && datum.part=='L'"}],"mark":{"type":"tick","size":7,"thickness":1,"color":"#333"},"encoding":{"x":{"field":"k","type":"nominal"},"y":{"field":"hi","type":"quantitative"}}},
  {"data":{"name":"bars"},"transform":[{"filter":"datum.chart==3 && datum.part=='L'"}],"mark":{"type":"rule","color":"#666"},"encoding":{"x":{"field":"k","type":"nominal","bandPosition":0},"y":{"datum":-0.03,"type":"quantitative"},"y2":{"datum":0.03}}},
  {"data":{"values":[{}]},"mark":{"type":"rule","color":"#333"},"encoding":{"y":{"datum":0,"type":"quantitative"}}},
  {"data":{"values":[{}]},"mark":{"type":"rule","color":"#111","strokeWidth":1.5},"encoding":{"y":{"datum":-1.02,"type":"quantitative"}}},
  {"data":{"values":[{}]},"mark":{"type":"text","text":"reil1-1 reil2-1/","fontStyle":"italic","fontWeight":"bold","fontSize":15,"color":"#111"},"encoding":{"y":{"datum":-1.26,"type":"quantitative"}}},
  {"data":{"values":[{}]},"mark":{"type":"text","text":"Col-0","fontWeight":"bold","fontSize":15,"color":"#111"},"encoding":{"y":{"datum":-1.52,"type":"quantitative"}}}
 ]},
{"width":135,"height":163,"view":{"stroke":"#3a3a3a","strokeWidth":1},
 "layer":[
  {"data":{"name":"bars"},"transform":[{"filter":"datum.chart==3 && datum.part=='R'"}],"mark":{"type":"bar","width":7,"stroke":"#333","strokeWidth":1},
   "encoding":{"x":{"field":"k","type":"nominal","title":null,"scale":{"domain":["Col-0 0 d","Col-0 1 d","Col-0 1 w","Col-0 3 w","reil 0 d","reil 1 d","reil 1 w","reil 3 w"],"paddingInner":0,"paddingOuter":0.355},"axis":{"labelExpr":"slice(datum.value, -3)","labelAngle":-90,"domain":false,"ticks":false,"labelPadding":8,"labelFontSize":13,"labelColor":"#222"}},
    "y":{"field":"v","type":"quantitative","scale":{"domain":[-0.5,2],"nice":false,"zero":false},"axis":null},
    "y2":{"datum":0},
    "fill":{"field":"g","type":"nominal","scale":{"domain":["ratio","Col-0","reil"],"range":["#a7b1af","#ffffff","#111111"]},"legend":null}}},
  {"data":{"name":"bars"},"transform":[{"filter":"datum.chart==3 && datum.part=='R'"}],"mark":{"type":"rule","color":"#333"},"encoding":{"x":{"field":"k","type":"nominal"},"y":{"field":"lo","type":"quantitative"},"y2":{"field":"hi"}}},
  {"data":{"name":"bars"},"transform":[{"filter":"datum.chart==3 && datum.part=='R'"}],"mark":{"type":"tick","size":6,"thickness":1,"color":"#333"},"encoding":{"x":{"field":"k","type":"nominal"},"y":{"field":"lo","type":"quantitative"}}},
  {"data":{"name":"bars"},"transform":[{"filter":"datum.chart==3 && datum.part=='R'"}],"mark":{"type":"tick","size":6,"thickness":1,"color":"#333"},"encoding":{"x":{"field":"k","type":"nominal"},"y":{"field":"hi","type":"quantitative"}}},
  {"data":{"name":"bars"},"transform":[{"filter":"datum.chart==3 && datum.part=='R'"}],"mark":{"type":"rule","color":"#666"},"encoding":{"x":{"field":"k","type":"nominal","bandPosition":0},"y":{"datum":-0.03,"type":"quantitative"},"y2":{"datum":0.03}}},
  {"data":{"values":[{}]},"mark":{"type":"rule","color":"#333"},"encoding":{"y":{"datum":0,"type":"quantitative"}}},
  {"data":{"values":[{"k":"Col-0 0 d"}]},"mark":{"type":"point","shape":"triangle-up","filled":true,"size":70,"color":"#111","opacity":1},"encoding":{"x":{"field":"k","type":"nominal"},"y":{"datum":-0.38,"type":"quantitative"}}},
  {"data":{"values":[{"a":"Col-0 0 d","b":"Col-0 3 w"},{"a":"reil 0 d","b":"reil 3 w"}]},"mark":{"type":"rule","color":"#111","strokeWidth":1.5},"encoding":{"x":{"field":"a","type":"nominal","bandPosition":0.28},"x2":{"field":"b","bandPosition":1},"y":{"datum":-1.02,"type":"quantitative"}}},
  {"data":{"values":[{"k":"Col-0 1 w"}]},"mark":{"type":"text","text":"Col-0","fontWeight":"bold","fontSize":15,"color":"#111"},"encoding":{"x":{"field":"k","type":"nominal","bandPosition":0},"y":{"datum":-1.26,"type":"quantitative"}}},
  {"data":{"values":[{"k":"reil 1 w"}]},"mark":{"type":"text","text":"reil1-1","fontWeight":"bold","fontStyle":"italic","fontSize":15,"color":"#111"},"encoding":{"x":{"field":"k","type":"nominal","bandPosition":0},"y":{"datum":-1.26,"type":"quantitative"}}},
  {"data":{"values":[{"k":"reil 1 w"}]},"mark":{"type":"text","text":"reil2-1","fontWeight":"bold","fontStyle":"italic","fontSize":15,"color":"#111"},"encoding":{"x":{"field":"k","type":"nominal","bandPosition":0},"y":{"datum":-1.52,"type":"quantitative"}}}
 ]},
{"width":128,"height":163,"data":{"values":[{}]},"mark":"text","encoding":{}},
{"width":101,"height":163,"view":{"stroke":"#3a3a3a","strokeWidth":1},
 "title":{"text":"chloroplast 30S subunit","subtitle":"of bin 29.2.1.1.1.1 (23 genes)","anchor":"start","frame":"group","offset":6,"fontSize":17,"fontWeight":"bold","subtitleFontSize":16,"subtitlePadding":3,"color":"#111","subtitleColor":"#111"},
 "layer":[
  {"data":{"name":"bars"},"transform":[{"filter":"datum.chart==4 && datum.part=='L'"}],"mark":{"type":"bar","width":13,"stroke":"#333","strokeWidth":1},
   "encoding":{"x":{"field":"k","type":"nominal","title":null,"scale":{"domain":["0 d","1 d","1 w","3 w"],"paddingInner":0,"paddingOuter":0.03},"axis":{"labelAngle":-90,"domain":false,"ticks":false,"labelPadding":8,"labelFontSize":13,"labelColor":"#222"}},
    "y":{"field":"v","type":"quantitative","title":"Log₂ (ratio)","scale":{"domain":[-0.5,2],"nice":false,"zero":false},"axis":{"values":[-0.5,0,0.5,1,1.5,2],"tickCount":10,"labelOverlap":false,"labelExpr":"replace(format(datum.value,'.2f'),'−','-')","domain":false,"tickSize":4,"tickColor":"#333","labelFontSize":15,"labelPadding":3,"labelColor":"#222","titleFontSize":18,"titleFontWeight":"bold","titlePadding":6,"titleColor":"#111"}},
    "y2":{"datum":0},
    "fill":{"field":"g","type":"nominal","scale":{"domain":["ratio","Col-0","reil"],"range":["#a7b1af","#ffffff","#111111"]},"legend":null}}},
  {"data":{"name":"bars"},"transform":[{"filter":"datum.chart==4 && datum.part=='L'"}],"mark":{"type":"rule","color":"#333"},"encoding":{"x":{"field":"k","type":"nominal"},"y":{"field":"lo","type":"quantitative"},"y2":{"field":"hi"}}},
  {"data":{"name":"bars"},"transform":[{"filter":"datum.chart==4 && datum.part=='L'"}],"mark":{"type":"tick","size":7,"thickness":1,"color":"#333"},"encoding":{"x":{"field":"k","type":"nominal"},"y":{"field":"lo","type":"quantitative"}}},
  {"data":{"name":"bars"},"transform":[{"filter":"datum.chart==4 && datum.part=='L'"}],"mark":{"type":"tick","size":7,"thickness":1,"color":"#333"},"encoding":{"x":{"field":"k","type":"nominal"},"y":{"field":"hi","type":"quantitative"}}},
  {"data":{"name":"bars"},"transform":[{"filter":"datum.chart==4 && datum.part=='L'"}],"mark":{"type":"rule","color":"#666"},"encoding":{"x":{"field":"k","type":"nominal","bandPosition":0},"y":{"datum":-0.03,"type":"quantitative"},"y2":{"datum":0.03}}},
  {"data":{"values":[{}]},"mark":{"type":"rule","color":"#333"},"encoding":{"y":{"datum":0,"type":"quantitative"}}},
  {"data":{"values":[{}]},"mark":{"type":"rule","color":"#111","strokeWidth":1.5},"encoding":{"y":{"datum":-1.02,"type":"quantitative"}}},
  {"data":{"values":[{}]},"mark":{"type":"text","text":"reil1-1 reil2-1/","fontStyle":"italic","fontWeight":"bold","fontSize":15,"color":"#111"},"encoding":{"y":{"datum":-1.26,"type":"quantitative"}}},
  {"data":{"values":[{}]},"mark":{"type":"text","text":"Col-0","fontWeight":"bold","fontSize":15,"color":"#111"},"encoding":{"y":{"datum":-1.52,"type":"quantitative"}}}
 ]},
{"width":135,"height":163,"view":{"stroke":"#3a3a3a","strokeWidth":1},
 "layer":[
  {"data":{"name":"bars"},"transform":[{"filter":"datum.chart==4 && datum.part=='R'"}],"mark":{"type":"bar","width":7,"stroke":"#333","strokeWidth":1},
   "encoding":{"x":{"field":"k","type":"nominal","title":null,"scale":{"domain":["Col-0 0 d","Col-0 1 d","Col-0 1 w","Col-0 3 w","reil 0 d","reil 1 d","reil 1 w","reil 3 w"],"paddingInner":0,"paddingOuter":0.355},"axis":{"labelExpr":"slice(datum.value, -3)","labelAngle":-90,"domain":false,"ticks":false,"labelPadding":8,"labelFontSize":13,"labelColor":"#222"}},
    "y":{"field":"v","type":"quantitative","scale":{"domain":[-0.5,2],"nice":false,"zero":false},"axis":null},
    "y2":{"datum":0},
    "fill":{"field":"g","type":"nominal","scale":{"domain":["ratio","Col-0","reil"],"range":["#a7b1af","#ffffff","#111111"]},"legend":null}}},
  {"data":{"name":"bars"},"transform":[{"filter":"datum.chart==4 && datum.part=='R'"}],"mark":{"type":"rule","color":"#333"},"encoding":{"x":{"field":"k","type":"nominal"},"y":{"field":"lo","type":"quantitative"},"y2":{"field":"hi"}}},
  {"data":{"name":"bars"},"transform":[{"filter":"datum.chart==4 && datum.part=='R'"}],"mark":{"type":"tick","size":6,"thickness":1,"color":"#333"},"encoding":{"x":{"field":"k","type":"nominal"},"y":{"field":"lo","type":"quantitative"}}},
  {"data":{"name":"bars"},"transform":[{"filter":"datum.chart==4 && datum.part=='R'"}],"mark":{"type":"tick","size":6,"thickness":1,"color":"#333"},"encoding":{"x":{"field":"k","type":"nominal"},"y":{"field":"hi","type":"quantitative"}}},
  {"data":{"name":"bars"},"transform":[{"filter":"datum.chart==4 && datum.part=='R'"}],"mark":{"type":"rule","color":"#666"},"encoding":{"x":{"field":"k","type":"nominal","bandPosition":0},"y":{"datum":-0.03,"type":"quantitative"},"y2":{"datum":0.03}}},
  {"data":{"values":[{}]},"mark":{"type":"rule","color":"#333"},"encoding":{"y":{"datum":0,"type":"quantitative"}}},
  {"data":{"values":[{"k":"Col-0 0 d"}]},"mark":{"type":"point","shape":"triangle-up","filled":true,"size":70,"color":"#111","opacity":1},"encoding":{"x":{"field":"k","type":"nominal"},"y":{"datum":-0.38,"type":"quantitative"}}},
  {"data":{"values":[{"a":"Col-0 0 d","b":"Col-0 3 w"},{"a":"reil 0 d","b":"reil 3 w"}]},"mark":{"type":"rule","color":"#111","strokeWidth":1.5},"encoding":{"x":{"field":"a","type":"nominal","bandPosition":0.28},"x2":{"field":"b","bandPosition":1},"y":{"datum":-1.02,"type":"quantitative"}}},
  {"data":{"values":[{"k":"Col-0 1 w"}]},"mark":{"type":"text","text":"Col-0","fontWeight":"bold","fontSize":15,"color":"#111"},"encoding":{"x":{"field":"k","type":"nominal","bandPosition":0},"y":{"datum":-1.26,"type":"quantitative"}}},
  {"data":{"values":[{"k":"reil 1 w"}]},"mark":{"type":"text","text":"reil1-1","fontWeight":"bold","fontStyle":"italic","fontSize":15,"color":"#111"},"encoding":{"x":{"field":"k","type":"nominal","bandPosition":0},"y":{"datum":-1.26,"type":"quantitative"}}},
  {"data":{"values":[{"k":"reil 1 w"}]},"mark":{"type":"text","text":"reil2-1","fontWeight":"bold","fontStyle":"italic","fontSize":15,"color":"#111"},"encoding":{"x":{"field":"k","type":"nominal","bandPosition":0},"y":{"datum":-1.52,"type":"quantitative"}}}
 ]}
]
}
]
}
]
}
